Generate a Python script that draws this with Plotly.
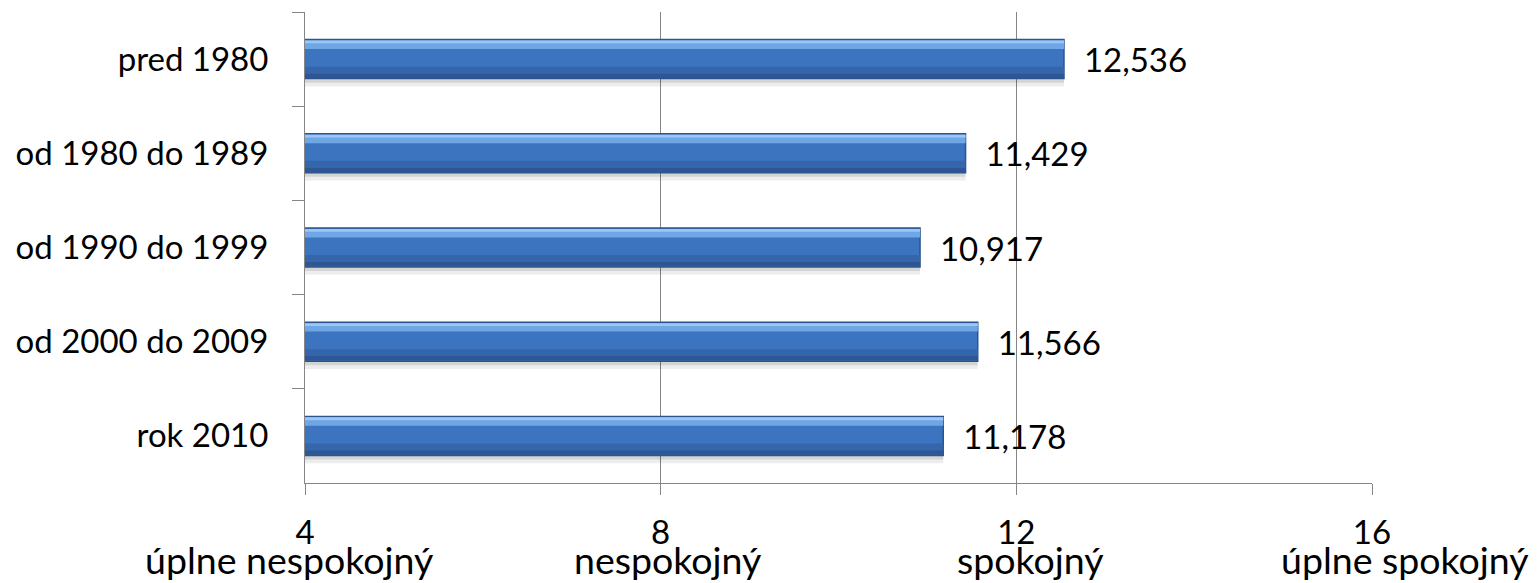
import plotly.graph_objects as go

# ---- data ----
categories = ["pred 1980", "od 1980 do 1989", "od 1990 do 1999", "od 2000 do 2009", "rok 2010"]
values = [12.536, 11.429, 10.917, 11.566, 11.178]
tick_values = [4, 8, 12, 16]
tick_numbers = ["4", "8", "12", "16"]
tick_words = ["úplne nespokojný", "nespokojný", "spokojný", "úplne spokojný"]

# ---- style ----
FONT = "Lato"
word_shift = [-16, 7, 14, 33]
GRAY = "#868686"

fig = go.Figure()

# soft shadow below bars
fig.add_trace(go.Bar(y=categories, x=values, orientation="h", width=0.46, offset=-0.17,
                     marker=dict(color="rgba(0,0,0,0.07)", line=dict(width=0)),
                     hoverinfo="skip", showlegend=False))
fig.add_trace(go.Bar(y=categories, x=values, orientation="h", width=0.44, offset=-0.19,
                     marker=dict(color="rgba(0,0,0,0.10)", line=dict(width=0)),
                     hoverinfo="skip", showlegend=False))
# main bar
fig.add_trace(go.Bar(y=categories, x=values, orientation="h", width=0.414, offset=-0.207,
                     marker=dict(color="#3c74bf", line=dict(color="#2c5590", width=1.5)),
                     texttemplate="\u00a0\u00a0%{x:.3f}", textposition="outside",
                     constraintext="none", cliponaxis=False,
                     textfont=dict(family=FONT, size=33, color="#000000"),
                     hoverinfo="skip", showlegend=False))
# light top highlight
fig.add_trace(go.Bar(y=categories, x=values, orientation="h", width=0.09, offset=-0.197,
                     marker=dict(color="#6fa6e6", line=dict(width=0)),
                     hoverinfo="skip", showlegend=False))
fig.add_trace(go.Bar(y=categories, x=values, orientation="h", width=0.03, offset=-0.197,
                     marker=dict(color="#9cc6f4", line=dict(width=0)),
                     hoverinfo="skip", showlegend=False))
# darker lower part
fig.add_trace(go.Bar(y=categories, x=values, orientation="h", width=0.09, offset=0.08,
                     marker=dict(color="#3566ab", line=dict(width=0)),
                     hoverinfo="skip", showlegend=False))
fig.add_trace(go.Bar(y=categories, x=values, orientation="h", width=0.045, offset=0.155,
                     marker=dict(color="#2d5692", line=dict(width=0)),
                     hoverinfo="skip", showlegend=False))

for v, w, s in zip(tick_values, tick_words, word_shift):
    fig.add_annotation(x=v, xref="x", y=-0.162, yref="paper", text=w, showarrow=False,
                       xanchor="center", yanchor="middle", xshift=s,
                       font=dict(family=FONT, size=37.5, color="#000000"))

fig.update_layout(
    width=1540, height=583,
    margin=dict(l=297, r=176, t=4, b=108),
    paper_bgcolor="white", plot_bgcolor="white",
    barmode="overlay", separators=", ",
    font=dict(family=FONT, size=33, color="#000000"),
    showlegend=False,
)
fig.update_xaxes(range=[4, 16], tickvals=tick_values, ticktext=tick_numbers,
                 showgrid=True, gridcolor=GRAY, gridwidth=1, zeroline=False,
                 showline=True, linecolor=GRAY, linewidth=1,
                 ticks="outside", ticklen=11, tickcolor=GRAY, ticklabelstandoff=9,
                 tickfont=dict(family=FONT, size=33, color="#000000"))
fig.update_yaxes(type="category", categoryorder="array", categoryarray=categories,
                 autorange="reversed", tickson="boundaries",
                 showgrid=False, zeroline=False,
                 showline=True, linecolor=GRAY, linewidth=1,
                 ticks="outside", ticklen=12, tickcolor=GRAY, ticklabelstandoff=29,
                 tickfont=dict(family=FONT, size=33, color="#000000"))

fig.write_html("out.html")
